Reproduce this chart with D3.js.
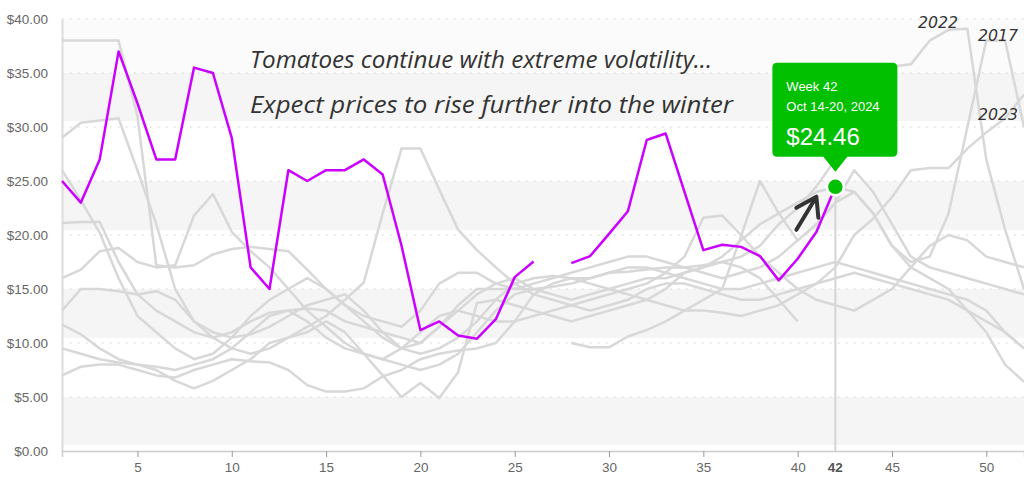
<!DOCTYPE html>
<html>
<head>
<meta charset="utf-8">
<script src="https://cdn.jsdelivr.net/npm/d3@7"></script>
<style>
  html, body { margin: 0; padding: 0; background: #ffffff; }
  svg { display: block; }
</style>
</head>
<body>
<svg id="chart" width="1024" height="481"></svg>
<script>
// ---------- DATA ----------
const weeks = d3.range(1, 53);
const xTicks = [5, 10, 15, 20, 25, 30, 35, 40, 45, 50];
const yTicks = [0, 5, 10, 15, 20, 25, 30, 35, 40];
const bandRanges = [[30.55, 35], [20.45, 25], [10.45, 15], [0.55, 5]];

// 2024 (highlighted, weeks 1-42, week 27 missing)
const y2024 = [25.0, 23.0, 27.0, 37.0, 32.2, 27.0, 27.0, 35.5, 35.0, 29.0,
  17.0, 15.0, 26.0, 25.0, 26.0, 26.0, 27.0, 25.6, 19.0, 11.2,
  12.0, 10.7, 10.4, 12.2, 16.1, 17.55, null, 17.4, 18.05, 20.1,
  22.2, 28.8, 29.4, 24.0, 18.6, 19.1, 18.9, 18.05, 15.8, 17.8,
  20.3, 24.46];

// previous years (grey)
const y2022 = [38, 38, 38, 38, 31, 17.2, 17, 17.2, 18.2, 18.7,
  18.9, 18.7, 18.5, 16.8, 15, 13.5, 12.5, 12, 11.5, 13,
  15.5, 16.5, 16.5, 15.5, 15, 15, 15.2, 15.5, 16, 16.5,
  16.6, 16.8, 17, 17, 17.2, 17.5, 18, 19, 21, 22.5,
  24.5, 27, 30, 33, 35.6, 35.8, 38, 39, 39.1, 27, 20.5, 15];
const y2017 = [29, 30.4, 30.6, 30.8, 26, 21, 15, 12, 11, 10.5,
  10.8, 11.5, 12.5, 13.5, 14, 14.5, 13, 11, 9.5, 10,
  11.5, 13, 14.5, 15.5, 16, 15, 14.5, 14, 14.5, 15,
  15.5, 16, 16, 16.5, 17, 18, 19.5, 21, 22, 23,
  24, 24.4, 24, 22, 19, 17.5, 18, 22, 30, 38, 38, 30];
const y2023 = [26, 23.2, 20.2, 16, 12.5, 11, 9.5, 8.5, 9, 10.5,
  12.5, 14, 15, 16, 15, 13.5, 12, 10.5, 9.5, 9,
  9.5, 10.5, 12, 14, 15.5, 16, 16.2, 16, 15.5, 15,
  14.5, 14, 13.5, 13, 13, 12.8, 12.5, 13, 13.5, 14.5,
  15.5, 17, 20, 21.5, 23.5, 26, 26.2, 26.2, 28, 29.5, 30.8, 33];
const y2021 = [21.1, 21.2, 21.2, 17.5, 14.5, 13, 12, 11, 10.5, 11,
  12, 12.8, 13, 13.2, 13, 12, 11.5, 11, 10.5, 10,
  11.5, 13.5, 15, 15, 15, 15.5, 16, 16.5, 17, 17.5,
  18, 18, 17.5, 17, 16.5, 16, 16.5, 17, 18, 19.5,
  21, 23, 26, 24, 21, 18, 17, 16.5, 16, 15.5, 15, 14.5];
const y2020 = [16, 16.8, 18.5, 18.8, 17.5, 17, 17.2, 21.8, 23.8, 20.3,
  18.5, 17, 15, 13, 11.5, 10, 9, 8.5, 9.5, 11,
  12.5, 13, 12.5, 12, 12, 12.5, 13, 13.5, 14, 14.5,
  15, 15.5, 16.5, 18, 21.6, 21.8, 20, 18, 16.5, 15,
  14, 13.5, 13, 14, 15, 17, 19, 20, 19.5, 18, 17.5, 17];
const y2019 = [13, 15, 15, 14.8, 14.5, 14.8, 14, 12, 10.5, 9.5,
  9, 9.5, 10.5, 11.5, 12.5, 14, 15.6, 22, 28, 28,
  24.2, 20.5, 18.6, 17, 15.5, 14.5, 14, 13.5, 13, 13.5,
  14, 15, 15.5, 15.5, 15, 14.5, 14, 14, 14.5, 15,
  15.5, 16, 16.5, 16, 15.5, 15, 14.5, 14, 13, 12, 11, 9.5];
const y2018 = [11.7, 10.8, 9.5, 8.5, 8, 7.8, 7.5, 8, 8.5, 9.5,
  11, 12.5, 13, 12, 10.5, 9.5, 9, 8.5, 8, 7.5,
  8, 9, 11, 13, 14.5, 15, null, 10, 9.6, 9.6,
  10.6, 11.2, 12, 13, 14, 15, 15, 15.5, 16, 16.5,
  17, 17.5, 17, 16.5, 16, 15.5, 15, 14.5, 14, 13, 11, 9.5];
const y2016 = [7, 7.8, 8, 8, 7.5, 7, 6.8, 7.5, 8, 8.5,
  8.3, 8.2, 7.5, 6.1, 5.5, 5.5, 5.8, 6.9, 7.5, 8.5,
  9, 9.3, 9.5, 10, 12, 14.5, 15.5, 16, 16, 16.5,
  17, 17, 16.5, 16, 15.5, 15, 19.9, 25, 22, 19.5,
  21, 23, 24, 22, 19, 17, 16, 15, 13, 11, 8, 6.4];
const y2015 = [9.5, 9, 8.5, 8.2, 8, 7.5, 6.5, 5.8, 6.5, 7.5,
  8.5, 10, 10.5, 11, 12, 11, 9, 7, 5, 6.3,
  4.9, 7.3, 13.7, 14, 13.5, 13, 12.5, 12, 12.5, 13,
  13.5, 14, 15, 16.5, 17, 17.5, 17, 16, 14, 12];

const greySeries = [y2015, y2016, y2018, y2019, y2020, y2021, y2023, y2017, y2022];
const yearLabels = ["2022", "2017", "2023"];

const highlightWeek = 42;
const highlightValue = 24.46;
const tooltipLines = ["Week 42", "Oct 14-20, 2024", "$24.46"];
const noteLines = ["Tomatoes continue with extreme volatility...",
                   "Expect prices to rise further into the winter"];

// ---------- CHART ----------
const svg = d3.select("#chart");
const x = d3.scaleLinear().domain([1, 52]).range([62, 1024]);
const y = d3.scaleLinear().domain([0, 40]).range([451, 19]);

// faint top region + bands
svg.append("rect").attr("x", x(1)).attr("y", y(40)).attr("width", x(52) - x(1))
  .attr("height", y(35) - y(40)).attr("fill", "#fbfbfb");
svg.append("g").selectAll("rect").data(bandRanges).join("rect")
  .attr("x", x(1)).attr("width", x(52) - x(1))
  .attr("y", d => y(d[1])).attr("height", d => y(d[0]) - y(d[1]))
  .attr("fill", "#f5f5f5");

// gridlines (dotted)
svg.append("g").selectAll("line").data(yTicks.filter(v => v > 0)).join("line")
  .attr("x1", x(1)).attr("x2", x(52))
  .attr("y1", d => y(d)).attr("y2", d => y(d))
  .attr("stroke", "#cfcfcf").attr("stroke-width", 1)
  .attr("stroke-dasharray", "1.5,6.5");

// y axis
const yAxis = svg.append("g").attr("transform", `translate(${x(1)},0)`)
  .call(d3.axisLeft(y).tickValues(yTicks).tickFormat(d => "$" + d.toFixed(2)).tickSize(0).tickPadding(14));
yAxis.select(".domain").attr("stroke", "#dcdcdc").attr("stroke-width", 2);
yAxis.selectAll("text").attr("fill", "#666").style("font", "13.5px 'Liberation Sans', Arial, sans-serif");

// x axis
const xAxis = svg.append("g").attr("transform", `translate(0,${y(0)})`)
  .call(d3.axisBottom(x).tickValues(xTicks).tickFormat(d3.format("d")).tickSize(6).tickPadding(5));
xAxis.select(".domain").attr("stroke", "#cccccc").attr("stroke-width", 1.5);
xAxis.selectAll(".tick line").attr("stroke", "#999");
xAxis.selectAll("text").attr("fill", "#666").style("font", "13.5px 'Liberation Sans', Arial, sans-serif");
// highlighted week label
svg.append("text").attr("x", x(highlightWeek)).attr("y", y(0) + 21)
  .attr("text-anchor", "middle").attr("fill", "#555")
  .style("font", "bold 13.5px 'Liberation Sans', Arial, sans-serif")
  .text(highlightWeek);

// crosshair
svg.append("line").attr("x1", x(highlightWeek)).attr("x2", x(highlightWeek))
  .attr("y1", y(highlightValue)).attr("y2", y(0))
  .attr("stroke", "#d4d4d4").attr("stroke-width", 2);

const line = d3.line().defined(d => d != null)
  .x((d, i) => x(weeks[i])).y(d => y(d));

svg.append("g").selectAll("path").data(greySeries).join("path")
  .attr("d", d => line(d))
  .attr("fill", "none").attr("stroke", "#d8d8d8").attr("stroke-width", 2.5)
  .attr("stroke-linejoin", "round");

svg.append("path").attr("d", line(y2024))
  .attr("fill", "none").attr("stroke", "#cc00ff").attr("stroke-width", 2.5)
  .attr("stroke-linejoin", "round");

// year labels near series ends
const hand = "italic 16px 'DejaVu Sans', sans-serif";
const labelPos = [[918, 28], [978, 41], [978, 120]];
yearLabels.forEach((t, i) => {
  svg.append("text").attr("x", labelPos[i][0]).attr("y", labelPos[i][1])
    .attr("fill", "#333").style("font", hand)
    .attr("textLength", 40).attr("lengthAdjust", "spacingAndGlyphs").text(t);
});

// notes
const noteY = [68, 113];
const noteW = [462, 483];
noteLines.forEach((t, i) => {
  svg.append("text").attr("x", 250).attr("y", noteY[i])
    .attr("fill", "#333").style("font", "italic 24px 'Open Sans', sans-serif")
    .attr("textLength", noteW[i]).attr("lengthAdjust", "spacingAndGlyphs").text(t);
});

// arrow
const ax = x(highlightWeek), ay = y(highlightValue);
svg.append("path")
  .attr("d", `M${ax - 39},${ay + 43} L${ax - 19},${ay + 10} M${ax - 39},${ay + 21} L${ax - 19},${ay + 10} L${ax - 17},${ay + 31}`)
  .attr("fill", "none").attr("stroke", "#333").attr("stroke-width", 4)
  .attr("stroke-linecap", "round").attr("stroke-linejoin", "round");

// tooltip
const tipG = svg.append("g");
const bx0 = ax - 63, bx1 = ax + 62, by0 = ay - 124, by1 = ay - 30, r = 5;
tipG.append("path")
  .attr("d", `M${bx0 + r},${by0} L${bx1 - r},${by0} Q${bx1},${by0} ${bx1},${by0 + r} L${bx1},${by1 - r} Q${bx1},${by1} ${bx1 - r},${by1}
    L${ax + 12},${by1} L${ax},${ay - 15} L${ax - 12},${by1} L${bx0 + r},${by1} Q${bx0},${by1} ${bx0},${by1 - r}
    L${bx0},${by0 + r} Q${bx0},${by0} ${bx0 + r},${by0} Z`)
  .attr("fill", "#00c000");
tipG.append("text").attr("x", bx0 + 14).attr("y", by0 + 28).attr("fill", "#fff")
  .style("font", "13px 'Liberation Sans', Arial, sans-serif").text(tooltipLines[0]);
tipG.append("text").attr("x", bx0 + 14).attr("y", by0 + 48).attr("fill", "#fff")
  .style("font", "13px 'Liberation Sans', Arial, sans-serif").text(tooltipLines[1]);
tipG.append("text").attr("x", bx0 + 14).attr("y", by0 + 82).attr("fill", "#fff")
  .style("font", "24px 'Liberation Sans', Arial, sans-serif").text(tooltipLines[2]);

// marker
svg.append("circle").attr("cx", ax).attr("cy", ay).attr("r", 8.5)
  .attr("fill", "#00c000").attr("stroke", "#fff").attr("stroke-width", 2.5);
</script>
</body>
</html>
